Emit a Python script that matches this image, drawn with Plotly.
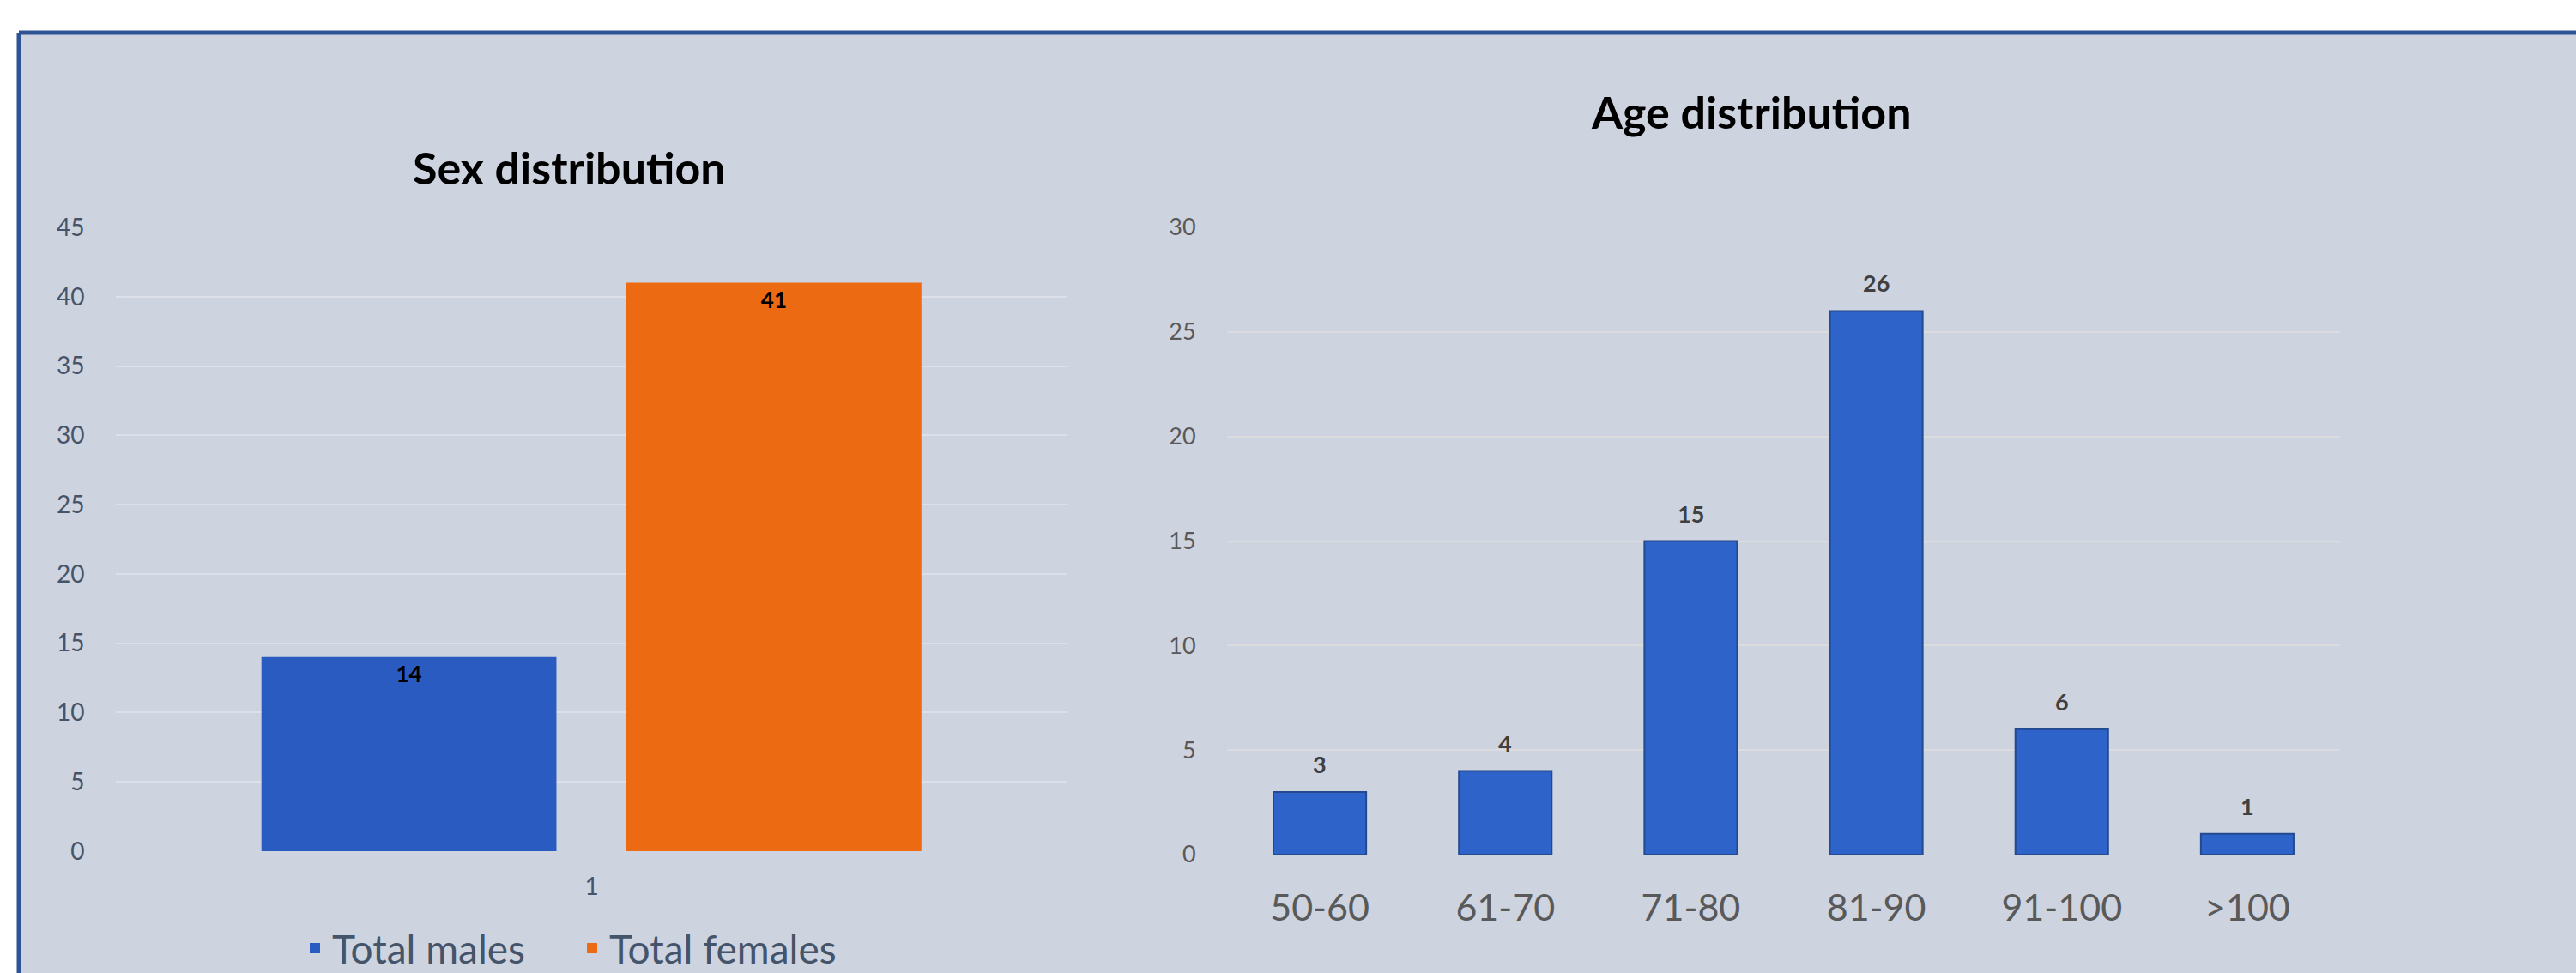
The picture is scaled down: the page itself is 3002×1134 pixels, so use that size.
import plotly.graph_objects as go

# ---------------- data ----------------
sex_category = ["1"]
sex_series = ["Total males", "Total females"]
sex_values = [14, 41]

age_groups = ["50-60", "61-70", "71-80", "81-90", "91-100", ">100"]
age_counts = [3, 4, 15, 26, 6, 1]

sex_ticks = [0, 5, 10, 15, 20, 25, 30, 35, 40, 45]
age_ticks = [0, 5, 10, 15, 20, 25, 30]

# ---------------- style ----------------
W, H = 3002, 1134
FONT = "Lato"
PANEL = "#CED3E0"
BORDER = "#2F5496"
sex_colors = ["#2A5BC0", "#EC6A12"]
sex_width = 0.31
sex_offsets = [-0.347, 0.0365]
AGE_COLOR = "#2E63C9"


def px_x(v):
    return v / W


def px_y(v):
    return 1 - v / H


fig = go.Figure()

for name, val, col, off in zip(sex_series, sex_values, sex_colors, sex_offsets):
    fig.add_trace(go.Bar(
        x=sex_category, y=[val], name=name,
        marker=dict(color=col, line=dict(width=0)),
        width=sex_width, offset=off,
        text=["<b>%d</b>" % val], textposition="inside", insidetextanchor="end",
        textfont=dict(family=FONT, size=26, color="#000000"),
        constraintext="none",
        xaxis="x", yaxis="y",
    ))

fig.add_trace(go.Bar(
    x=age_groups, y=age_counts, name="Age", showlegend=False,
    marker=dict(color=AGE_COLOR, line=dict(color="#234A8E", width=2)),
    xaxis="x2", yaxis="y2",
))

# value labels above the age bars, anchored through the axes
labels = []
for cat, val in zip(age_groups, age_counts):
    labels.append(dict(
        xref="x2", yref="y2", x=cat, y=val,
        text="<b>%d</b>" % val, showarrow=False,
        xanchor="center", yanchor="bottom", yshift=14,
        font=dict(family=FONT, size=27, color="#404040"),
    ))

grid_left = "#DDE0E8"
grid_right = "#DCDCDE"

fig.update_layout(
    width=W, height=H,
    margin=dict(l=0, r=0, t=0, b=0, pad=0, autoexpand=False),
    paper_bgcolor="white",
    plot_bgcolor="rgba(0,0,0,0)",
    barmode="overlay",
    bargap=0.5,
    font=dict(family=FONT),
    xaxis=dict(
        domain=[px_x(135), px_x(1244)], anchor="y",
        type="category", range=[-0.5, 0.5],
        showgrid=False, showline=False, zeroline=False,
        ticks="outside", ticklen=16, tickcolor="rgba(0,0,0,0)",
        tickfont=dict(family=FONT, size=28, color="#44546A"),
    ),
    yaxis=dict(
        domain=[px_y(992), px_y(265)], anchor="x",
        range=[0, 45], tickvals=sex_ticks,
        showgrid=True, gridcolor=grid_left, gridwidth=2,
        zeroline=False, showline=False,
        ticks="outside", ticklen=30, tickcolor="rgba(0,0,0,0)",
        tickfont=dict(family=FONT, size=28, color="#44546A"),
    ),
    xaxis2=dict(
        domain=[px_x(1430), px_x(2727)], anchor="y2",
        type="category",
        showgrid=False, showline=False, zeroline=False,
        ticks="outside", ticklen=24, tickcolor="rgba(0,0,0,0)",
        tickfont=dict(family=FONT, size=43, color="#595959"),
    ),
    yaxis2=dict(
        domain=[px_y(996), px_y(265)], anchor="x2",
        range=[0, 30], tickvals=age_ticks,
        showgrid=True, gridcolor=grid_right, gridwidth=2,
        zeroline=False, showline=False,
        ticks="outside", ticklen=30, tickcolor="rgba(0,0,0,0)",
        tickfont=dict(family=FONT, size=27, color="#595959"),
    ),
    legend=dict(
        orientation="h", x=px_x(670), xanchor="center",
        y=px_y(1105), yanchor="middle",
        font=dict(family=FONT, size=46, color="#44546A"),
        bgcolor="rgba(0,0,0,0)",
        itemwidth=30,
        entrywidth=278, entrywidthmode="pixels",
    ),
    shapes=[
        dict(type="rect", xref="paper", yref="paper", layer="below",
             x0=px_x(22), x1=1, y0=0, y1=px_y(38),
             fillcolor=PANEL, line=dict(width=0)),
        dict(type="line", xref="paper", yref="paper", layer="below",
             x0=px_x(22), x1=1, y0=px_y(38), y1=px_y(38),
             line=dict(color=BORDER, width=5)),
        dict(type="line", xref="paper", yref="paper", layer="below",
             x0=px_x(22), x1=px_x(22), y0=0, y1=px_y(38),
             line=dict(color=BORDER, width=5)),
    ],
    annotations=[
        dict(text="<b>Sex distribution</b>", xref="paper", yref="paper",
             x=px_x(663), y=px_y(195), xanchor="center", yanchor="middle",
             showarrow=False, font=dict(family=FONT, size=52, color="#000000")),
        dict(text="<b>Age distribution</b>", xref="paper", yref="paper",
             x=px_x(2041), y=px_y(130), xanchor="center", yanchor="middle",
             showarrow=False, font=dict(family=FONT, size=52, color="#000000")),
    ] + labels,
)

fig.write_html("out.html")
